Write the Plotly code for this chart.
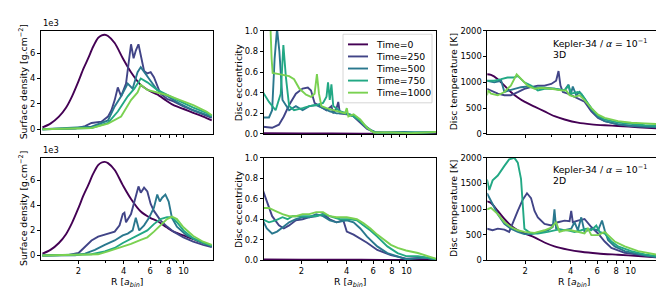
import math
import plotly.graph_objects as go

W, H = 664, 291

times = ["Time=0", "Time=250", "Time=500", "Time=750", "Time=1000"]
colors = ["#440154", "#414487", "#2a788e", "#22a884", "#7ad151"]

# ---------------- Surface density (units of 1e3 g/cm^2) ----------------
sd_r_t0 = [1.15, 1.3, 1.48, 1.65, 1.81, 2.0, 2.16, 2.32, 2.5, 2.70, 2.85, 2.99, 3.14, 3.48, 3.94, 4.47, 5.19, 6.0, 6.68, 7.7, 8.58, 10.0, 11.6, 13.5, 15.4]
sd_t0 = [0.15, 0.45, 1.0, 1.7, 2.6, 3.8, 4.8, 5.6, 6.5, 7.2, 7.4, 7.45, 7.35, 6.8, 5.6, 4.5, 3.5, 3.0, 2.75, 2.25, 1.9, 1.6, 1.3, 1.0, 0.7]

sd3_r_t250 = [1.15, 1.90, 2.21, 2.44, 2.84, 3.14, 3.31, 3.48, 3.65, 3.84, 4.14, 4.47, 4.65, 4.81, 5.01, 5.19, 5.46, 5.74, 6.04, 6.35, 7.02, 7.76, 8.58, 9.98, 11.6, 13.5, 15.4]
sd3_t250 = [0.0, 0.05, 0.25, 0.5, 0.6, 1.0, 1.5, 2.3, 3.3, 2.6, 3.6, 6.7, 5.6, 6.2, 6.7, 5.9, 4.6, 4.4, 4.5, 4.1, 2.8, 2.4, 2.2, 1.8, 1.5, 1.2, 0.9]
sd3_r_t500 = [1.15, 2.44, 3.14, 3.48, 3.84, 4.25, 4.58, 4.94, 5.19, 5.46, 6.04, 6.68, 7.76, 9.49, 11.6, 14.2, 15.4]
sd3_t500 = [0.0, 0.2, 0.7, 1.8, 2.6, 3.6, 3.2, 4.5, 4.9, 4.5, 3.8, 3.1, 2.6, 2.0, 1.5, 1.15, 1.0]
sd3_r_t750 = [1.15, 2.44, 3.14, 3.65, 4.25, 4.70, 5.19, 5.74, 6.68, 7.76, 9.49, 11.6, 14.2, 15.4]
sd3_t750 = [0.0, 0.1, 0.5, 1.4, 2.6, 3.2, 4.0, 3.7, 3.1, 2.7, 2.2, 1.7, 1.3, 1.0]
sd3_r_t1000 = [1.15, 2.44, 3.14, 3.84, 4.47, 4.94, 5.19, 5.74, 6.68, 7.76, 9.49, 11.6, 14.2, 15.4]
sd3_t1000 = [0.0, 0.1, 0.45, 1.0, 2.3, 2.9, 3.5, 3.1, 2.9, 2.7, 2.3, 1.9, 1.4, 1.1]

sd2_r_t250 = [1.15, 1.72, 2.0, 2.21, 2.44, 2.70, 3.14, 3.48, 3.75, 3.94, 4.04, 4.14, 4.47, 4.81, 5.01, 5.19, 5.46, 5.74, 6.04, 6.35, 7.02, 7.76, 8.58, 9.98, 11.6, 13.5, 15.4]
sd2_t250 = [0.0, 0.05, 0.2, 0.7, 1.2, 1.5, 1.75, 1.9, 2.4, 3.3, 3.4, 2.65, 3.3, 4.85, 5.5, 5.0, 5.4, 5.1, 4.1, 3.55, 2.8, 2.3, 1.9, 1.45, 1.1, 0.85, 0.67]
sd2_r_t500 = [1.15, 1.90, 2.21, 2.57, 2.99, 3.48, 3.94, 4.25, 4.58, 4.81, 5.07, 5.46, 5.89, 6.35, 6.68, 6.95, 7.20, 7.57, 7.96, 8.37, 9.03, 10.5, 12.2, 14.2, 15.4]
sd2_t500 = [0.0, 0.02, 0.15, 0.45, 0.85, 1.2, 1.6, 1.75, 2.0, 3.0, 2.0, 2.4, 3.0, 3.8, 4.85, 4.3, 4.6, 4.85, 4.3, 3.0, 2.3, 1.6, 1.25, 0.9, 0.72]
sd2_r_t750 = [1.15, 2.44, 2.99, 3.48, 3.94, 4.25, 4.70, 5.19, 5.74, 6.35, 7.02, 7.76, 8.37, 9.03, 9.98, 11.6, 13.5, 15.4]
sd2_t750 = [0.0, 0.1, 0.33, 0.6, 1.0, 1.2, 1.45, 1.75, 2.0, 2.5, 2.9, 3.05, 3.05, 2.65, 2.0, 1.35, 1.0, 0.77]
sd2_r_t1000 = [1.15, 2.70, 3.14, 3.84, 4.47, 5.19, 5.74, 6.35, 7.02, 7.76, 8.37, 9.03, 9.98, 11.6, 13.5, 15.4]
sd2_t1000 = [0.0, 0.1, 0.33, 0.67, 0.93, 1.25, 1.45, 1.9, 2.4, 2.9, 3.1, 2.9, 2.25, 1.55, 1.1, 0.85]

# ---------------- Disc eccentricity ----------------
ecc_r_t0 = [1.107, 2.0, 5.0, 10.0, 16.0]
ecc_t0 = [0.008, 0.005, 0.004, 0.003, 0.003]

ecc3_r_t250 = [1.107, 1.28, 1.42, 1.53, 1.66, 1.84, 2.04, 2.21, 2.32, 2.45, 2.65, 2.94, 3.17, 3.26, 3.43, 3.52, 3.61, 4.01, 4.45, 4.93, 5.47, 6.07, 7.09, 9.67, 11.9, 16.0]
ecc3_t250 = [0.07, 0.06, 0.09, 0.17, 0.28, 0.39, 0.44, 0.45, 0.42, 0.30, 0.27, 0.23, 0.27, 0.2, 0.25, 0.31, 0.2, 0.19, 0.17, 0.11, 0.05, 0.02, 0.015, 0.02, 0.008, 0.015]
ecc3_r_t500 = [1.107, 1.22, 1.28, 1.33, 1.38, 1.43, 1.50, 1.66, 1.84, 2.04, 2.26, 2.51, 2.79, 3.09, 3.43, 3.80, 4.22, 4.68, 5.19, 5.76, 6.39, 7.87, 10.7, 16.0]
ecc3_t500 = [0.16, 0.16, 0.23, 0.73, 1.02, 0.8, 0.33, 0.23, 0.27, 0.23, 0.27, 0.28, 0.25, 0.22, 0.2, 0.2, 0.19, 0.16, 0.09, 0.04, 0.01, 0.01, 0.015, 0.02]
ecc3_r_t750 = [1.107, 1.22, 1.35, 1.46, 1.52, 1.58, 1.66, 1.79, 2.04, 2.26, 2.51, 2.79, 2.94, 3.01, 3.09, 3.17, 3.26, 3.61, 4.01, 4.45, 4.93, 5.47, 6.07, 7.87, 10.2, 13.2, 16.0]
ecc3_t750 = [0.41, 0.31, 0.23, 0.39, 0.86, 0.55, 0.27, 0.23, 0.25, 0.27, 0.28, 0.30, 0.36, 0.5, 0.33, 0.48, 0.27, 0.22, 0.2, 0.17, 0.125, 0.06, 0.015, 0.015, 0.008, 0.015, 0.02]
ecc3_r_t1000 = [1.107, 1.22, 1.25, 1.27, 1.29, 1.42, 1.66, 1.79, 1.94, 2.15, 2.32, 2.45, 2.54, 2.62, 2.72, 2.94, 3.43, 3.90, 4.01, 4.11, 4.45, 4.93, 5.47, 6.07, 7.87, 10.7, 16.0]
ecc3_t1000 = [1.4, 1.1, 1.0, 0.73, 0.59, 0.58, 0.56, 0.53, 0.44, 0.38, 0.36, 0.39, 0.58, 0.39, 0.27, 0.25, 0.22, 0.2, 0.25, 0.17, 0.19, 0.14, 0.06, 0.015, 0.015, 0.008, 0.02]

ecc2_r_t250 = [1.107, 1.18, 1.28, 1.42, 1.53, 1.66, 1.84, 2.04, 2.26, 2.51, 2.79, 3.09, 3.43, 3.80, 4.01, 4.45, 4.93, 5.47, 6.39, 7.87, 9.93, 13.2, 16.0]
ecc2_t250 = [0.69, 0.58, 0.43, 0.34, 0.31, 0.34, 0.39, 0.40, 0.42, 0.43, 0.45, 0.40, 0.37, 0.39, 0.28, 0.25, 0.21, 0.17, 0.10, 0.05, 0.015, 0.025, 0.005]
ecc2_r_t500 = [1.107, 1.18, 1.28, 1.38, 1.50, 1.66, 1.84, 2.04, 2.26, 2.51, 2.79, 3.09, 3.43, 4.01, 4.45, 4.93, 5.47, 6.39, 7.46, 8.72, 9.93, 13.2, 16.0]
ecc2_t500 = [0.39, 0.31, 0.26, 0.28, 0.32, 0.37, 0.40, 0.42, 0.42, 0.45, 0.43, 0.39, 0.37, 0.39, 0.37, 0.31, 0.23, 0.135, 0.07, 0.035, 0.01, 0.025, 0.005]
ecc2_r_t750 = [1.107, 1.22, 1.35, 1.50, 1.62, 1.75, 2.04, 2.51, 2.79, 3.26, 3.61, 4.22, 4.68, 5.19, 5.76, 6.39, 7.46, 8.72, 9.93, 11.9, 16.0]
ecc2_t750 = [0.40, 0.37, 0.39, 0.42, 0.40, 0.43, 0.43, 0.43, 0.45, 0.42, 0.40, 0.40, 0.39, 0.34, 0.29, 0.23, 0.135, 0.07, 0.04, 0.04, 0.01]
ecc2_r_t1000 = [1.107, 1.22, 1.35, 1.50, 1.66, 1.84, 2.04, 2.26, 2.51, 2.79, 3.09, 3.43, 4.01, 4.68, 5.19, 5.76, 6.39, 7.09, 7.87, 8.72, 9.93, 11.9, 16.0]
ecc2_t1000 = [0.51, 0.51, 0.48, 0.45, 0.43, 0.43, 0.45, 0.45, 0.47, 0.47, 0.43, 0.42, 0.42, 0.40, 0.36, 0.31, 0.25, 0.20, 0.15, 0.12, 0.095, 0.07, 0.01]

# ---------------- Disc temperature [K] ----------------
tm3_r_t0 = [1.12, 1.19, 1.32, 1.46, 1.61, 1.79, 1.98, 2.31, 2.69, 3.13, 3.65, 4.47, 5.49, 6.73, 8.25, 11.2, 15.75]
tm3_t0 = [1156, 1144, 1062, 937, 812, 706, 625, 531, 437, 344, 281, 219, 187, 169, 156, 131, 106]
tm3_r_t250 = [1.12, 1.19, 1.32, 1.46, 1.61, 1.79, 1.98, 2.19, 2.43, 2.69, 2.98, 3.21, 3.33, 3.43, 3.56, 3.84, 4.04, 4.25, 4.47, 4.95, 5.49, 6.08, 6.73, 8.25, 10.1, 12.4, 15.75]
tm3_t250 = [875, 844, 781, 750, 750, 812, 875, 906, 937, 937, 969, 1031, 1219, 937, 812, 781, 750, 719, 687, 625, 437, 312, 250, 187, 156, 137, 125]
tm3_r_t500 = [1.12, 1.25, 1.39, 1.46, 1.57, 1.70, 1.88, 2.08, 2.31, 2.55, 2.83, 3.13, 3.65, 3.88, 4.0, 4.14, 4.36, 4.59, 4.95, 5.49, 6.08, 6.73, 8.25, 10.1, 12.4, 15.75]
tm3_t500 = [1031, 1000, 1031, 812, 844, 875, 906, 918, 894, 906, 894, 875, 844, 956, 750, 919, 750, 812, 687, 469, 331, 250, 187, 156, 144, 131]
tm3_r_t750 = [1.12, 1.25, 1.39, 1.53, 1.70, 1.79, 1.98, 2.19, 2.43, 2.69, 3.13, 3.65, 3.88, 4.04, 4.47, 4.71, 4.95, 5.49, 6.08, 6.73, 8.25, 10.1, 12.4, 15.75]
tm3_t750 = [1031, 1031, 1062, 1094, 1094, 1125, 1000, 937, 844, 875, 875, 844, 937, 781, 812, 781, 687, 500, 356, 281, 219, 187, 169, 156]
tm3_r_t1000 = [1.12, 1.14, 1.19, 1.32, 1.46, 1.61, 1.76, 1.88, 2.08, 2.31, 2.55, 2.98, 3.47, 3.74, 3.94, 4.25, 4.59, 4.95, 5.49, 6.08, 6.73, 8.25, 10.1, 12.4, 15.75]
tm3_t1000 = [750, 844, 781, 750, 812, 937, 1156, 1062, 937, 875, 894, 875, 844, 844, 750, 719, 750, 656, 500, 375, 312, 250, 219, 206, 187]

tm2_r_t0 = [1.12, 1.19, 1.32, 1.46, 1.61, 1.79, 1.98, 2.31, 2.69, 3.13, 3.84, 4.71, 6.08, 8.25, 11.2, 15.75]
tm2_t0 = [1151, 1120, 962, 805, 679, 585, 522, 447, 346, 270, 207, 164, 132, 107, 82, 50]
tm2_r_t250 = [1.12, 1.22, 1.32, 1.46, 1.57, 1.66, 1.79, 1.93, 2.06, 2.19, 2.31, 2.43, 2.69, 2.98, 3.30, 3.65, 3.94, 4.04, 4.14, 4.47, 4.95, 5.49, 6.08, 6.73, 7.45, 9.13, 12.4, 15.75]
tm2_t250 = [616, 585, 616, 598, 553, 742, 962, 1182, 1308, 1214, 962, 837, 711, 679, 742, 774, 761, 962, 742, 774, 805, 648, 522, 365, 239, 145, 94, 50]
tm2_r_t500 = [1.12, 1.19, 1.32, 1.46, 1.61, 1.79, 1.98, 2.19, 2.43, 2.83, 3.05, 3.13, 3.21, 3.65, 4.04, 4.25, 4.47, 4.71, 4.95, 5.49, 6.08, 6.46, 6.73, 7.08, 7.84, 9.13, 12.4, 15.75]
tm2_t500 = [1308, 1151, 900, 711, 616, 553, 509, 509, 535, 585, 648, 994, 616, 585, 616, 742, 585, 837, 553, 616, 585, 774, 585, 396, 270, 176, 94, 50]
tm2_r_t750 = [1.12, 1.16, 1.22, 1.32, 1.46, 1.57, 1.70, 1.79, 1.88, 1.93, 1.98, 2.19, 2.43, 2.83, 3.30, 3.84, 4.25, 4.71, 5.08, 5.49, 5.92, 6.23, 6.73, 7.45, 8.25, 10.1, 12.4, 15.75]
tm2_t750 = [1579, 1371, 1560, 1654, 1843, 1969, 2000, 1906, 1591, 962, 616, 522, 522, 553, 598, 585, 553, 585, 616, 585, 679, 553, 522, 365, 270, 176, 113, 69]
tm2_r_t1000 = [1.12, 1.19, 1.32, 1.46, 1.61, 1.79, 1.98, 2.31, 2.69, 2.98, 3.21, 3.38, 3.65, 4.04, 4.47, 4.95, 5.21, 5.49, 6.08, 6.73, 7.08, 7.84, 9.13, 11.2, 15.75]
tm2_t1000 = [994, 1025, 900, 742, 648, 585, 553, 535, 585, 635, 742, 553, 585, 585, 553, 522, 616, 490, 490, 553, 490, 365, 270, 176, 94]

# tick labels
x_tickvals = [2, 4, 6, 8, 10]
x_ticktext = ["2", "4", "6", "8", "10"]
x_minor_tickvals = [3, 5, 7, 9]
sd_ticks = [0, 2, 4, 6]
ecc_ticks = [0.0, 0.2, 0.4, 0.6, 0.8, 1.0]
ecc_ticktext = ["0.0", "0.2", "0.4", "0.6", "0.8", "1.0"]
tm_ticks = [0, 500, 1000, 1500, 2000]

panels = [
    (1, [(sd_r_t0, sd_t0), (sd3_r_t250, sd3_t250), (sd3_r_t500, sd3_t500), (sd3_r_t750, sd3_t750), (sd3_r_t1000, sd3_t1000)]),
    (2, [(ecc_r_t0, ecc_t0), (ecc3_r_t250, ecc3_t250), (ecc3_r_t500, ecc3_t500), (ecc3_r_t750, ecc3_t750), (ecc3_r_t1000, ecc3_t1000)]),
    (3, [(tm3_r_t0, tm3_t0), (tm3_r_t250, tm3_t250), (tm3_r_t500, tm3_t500), (tm3_r_t750, tm3_t750), (tm3_r_t1000, tm3_t1000)]),
    (4, [(sd_r_t0, sd_t0), (sd2_r_t250, sd2_t250), (sd2_r_t500, sd2_t500), (sd2_r_t750, sd2_t750), (sd2_r_t1000, sd2_t1000)]),
    (5, [(ecc_r_t0, ecc_t0), (ecc2_r_t250, ecc2_t250), (ecc2_r_t500, ecc2_t500), (ecc2_r_t750, ecc2_t750), (ecc2_r_t1000, ecc2_t1000)]),
    (6, [(tm2_r_t0, tm2_t0), (tm2_r_t250, tm2_t250), (tm2_r_t500, tm2_t500), (tm2_r_t750, tm2_t750), (tm2_r_t1000, tm2_t1000)]),
]

fig = go.Figure()
for idx, series in panels:
    sfx = "" if idx == 1 else str(idx)
    for k, (r, v) in enumerate(series):
        fig.add_trace(go.Scatter(
            x=r, y=v, mode="lines", name=times[k],
            line=dict(color=colors[k], width=1.9, shape="spline" if k == 0 else "linear", smoothing=0.8),
            xaxis="x" + sfx, yaxis="y" + sfx, showlegend=False, hoverinfo="skip",
        ))


def px_x(p):
    return p / W


def px_y(p):
    return 1 - p / H


col_dom = [(33, 205), (255.7, 428), (479.3, 652.3)]
row_dom = [(18.3, 125.3), (150, 256)]
font_fam = "DejaVu Sans"
TICK_FS = 8.4
TXT_FS = 9.3
xr = [math.log10(1.125), math.log10(15.7)]

layout = dict(
    width=W, height=H, margin=dict(l=0, r=0, t=0, b=0),
    paper_bgcolor="white", plot_bgcolor="white",
    font=dict(family=font_fam, size=TICK_FS, color="black"),
    showlegend=False,
)

ycfg = [
    dict(range=[-0.37, 7.77], tickvals=sd_ticks),
    dict(range=[0, 1.0], tickvals=ecc_ticks, ticktext=ecc_ticktext),
    dict(range=[0, 2000], tickvals=tm_ticks),
]

for row in range(2):
    for col in range(3):
        idx = row * 3 + col + 1
        sfx = "" if idx == 1 else str(idx)
        common = dict(showline=True, linecolor="black", linewidth=0.8, mirror=True,
                      ticks="outside", ticklen=3, tickwidth=0.8, tickcolor="black",
                      showgrid=False, zeroline=False,
                      tickfont=dict(family=font_fam, size=TICK_FS, color="black"))
        layout["xaxis" + sfx] = dict(
            type="log", range=xr, domain=[px_x(col_dom[col][0]), px_x(col_dom[col][1])],
            anchor="y" + sfx, tickmode="array", tickvals=x_tickvals, ticktext=x_ticktext,
            tickangle=0, showticklabels=(row == 1),
            minor=dict(tickmode="array", tickvals=x_minor_tickvals, ticks="outside",
                       ticklen=2, tickwidth=0.6, tickcolor="black", showgrid=False),
            **common)
        yc = dict(ycfg[col])
        layout["yaxis" + sfx] = dict(
            domain=[px_y(row_dom[row][1]), px_y(row_dom[row][0])], anchor="x" + sfx,
            tickmode="array", tickangle=0, **yc, **common)

fig.update_layout(**layout)

ann = []
ytitles = ["Surface density [g.cm<sup>−2</sup>]", "Disc eccentricity", "Disc temperature [K]"]
ytitle_x = [15, 230, 445]
for row in range(2):
    yc = (row_dom[row][0] + row_dom[row][1]) / 2
    for col in range(3):
        ann.append(dict(text=ytitles[col], x=px_x(ytitle_x[col]), y=px_y(yc), xref="paper", yref="paper",
                        textangle=-90, showarrow=False, xanchor="center", yanchor="middle",
                        font=dict(size=TXT_FS, family=font_fam)))
    ann.append(dict(text="1e3", x=px_x(33), y=px_y(row_dom[row][0] - 0.5), xref="paper", yref="paper",
                    showarrow=False, xanchor="left", yanchor="bottom", font=dict(size=TICK_FS, family=font_fam)))
for col in range(3):
    cx = (col_dom[col][0] + col_dom[col][1]) / 2
    ann.append(dict(text="R [<i>a</i><sub><i>bin</i></sub>]", x=px_x(cx), y=px_y(279), xref="paper", yref="paper",
                    showarrow=False, xanchor="center", yanchor="middle", font=dict(size=TXT_FS, family=font_fam)))

for row, lab in enumerate(["3D", "2D"]):
    y0 = [30.7, 161.7][row]
    ann.append(dict(text="Kepler-34 / <i>α</i> = 10<sup>−1</sup>", x=px_x(542.5), y=px_y(y0), xref="paper", yref="paper",
                    showarrow=False, xanchor="left", yanchor="middle", font=dict(size=TXT_FS, family=font_fam)))
    ann.append(dict(text=lab, x=px_x(542.5), y=px_y(y0 + 11.8), xref="paper", yref="paper",
                    showarrow=False, xanchor="left", yanchor="middle", font=dict(size=TXT_FS, family=font_fam)))

# legend (top-middle panel)
shapes = [dict(type="rect", xref="paper", yref="paper", x0=px_x(335), x1=px_x(424), y0=px_y(93), y1=px_y(22),
               line=dict(color="#cccccc", width=0.8), fillcolor="rgba(255,255,255,0.8)", layer="above")]
for k in range(5):
    yy = 32.5 + 12.5 * k
    shapes.append(dict(type="line", xref="paper", yref="paper", x0=px_x(340), x1=px_x(360), y0=px_y(yy), y1=px_y(yy),
                       line=dict(color=colors[k], width=1.9), layer="above"))
    ann.append(dict(text=times[k], x=px_x(365.5), y=px_y(yy), xref="paper", yref="paper", showarrow=False,
                    xanchor="left", yanchor="middle", font=dict(size=TXT_FS, family=font_fam)))

fig.update_layout(annotations=ann, shapes=shapes)
fig.write_html("out.html")
